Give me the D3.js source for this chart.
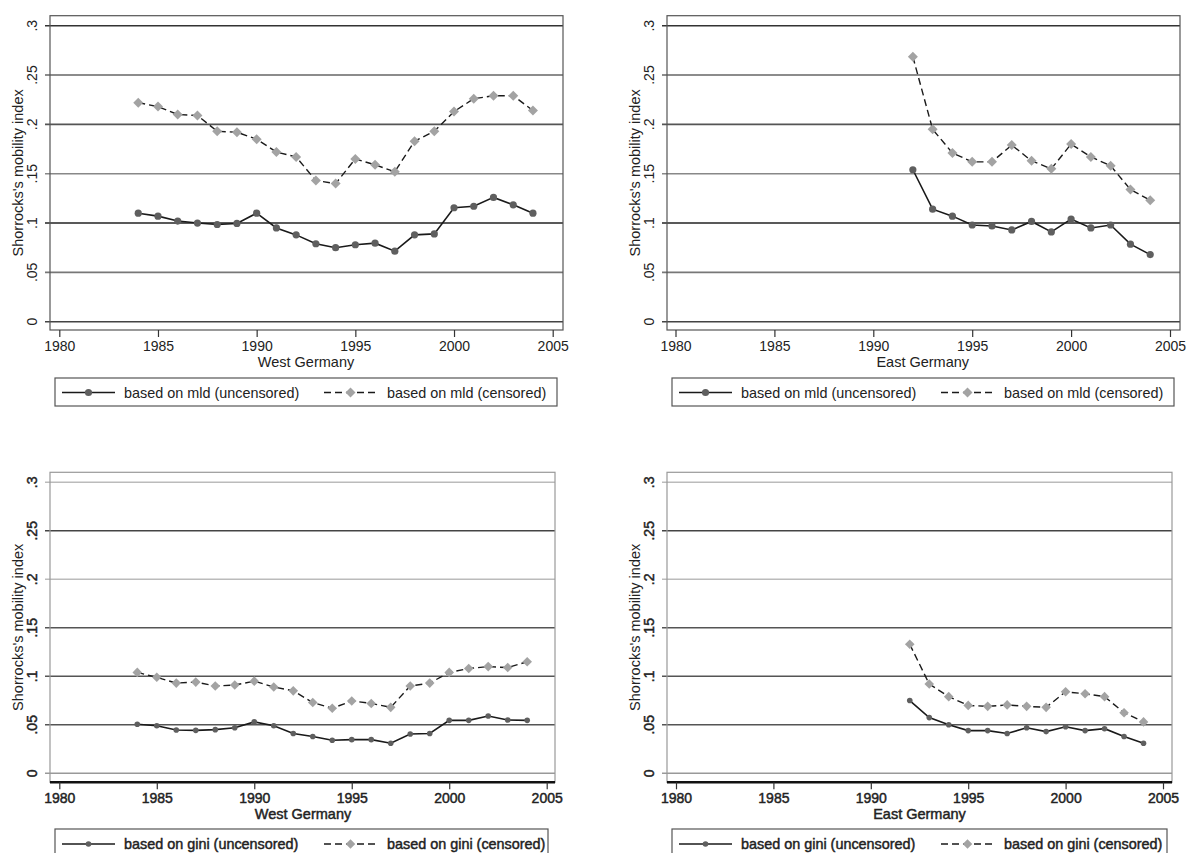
<!DOCTYPE html>
<html lang="en">
<head>
<meta charset="UTF-8" />
<title>Shorrocks mobility index</title>
<script src="https://cdn.jsdelivr.net/npm/d3@7"></script>
<style>
  html, body { margin: 0; padding: 0; background: #fff; }
  svg { display: block; font-family: "Liberation Sans", Arial, sans-serif; }
</style>
</head>
<body>
<div id="chart"></div>
<script>
/* data */
const yearsWest = [1984,1985,1986,1987,1988,1989,1990,1991,1992,1993,1994,1995,1996,1997,1998,1999,2000,2001,2002,2003,2004];
const yearsEast = [1992,1993,1994,1995,1996,1997,1998,1999,2000,2001,2002,2003,2004];

const mldWestUncens = [0.110,0.107,0.102,0.100,0.0985,0.0996,0.110,0.095,0.088,0.079,0.075,0.078,0.0796,0.0715,0.088,0.089,0.1155,0.117,0.126,0.1185,0.110];
const mldWestCens   = [0.222,0.218,0.210,0.209,0.193,0.192,0.185,0.172,0.167,0.143,0.140,0.165,0.159,0.152,0.183,0.193,0.213,0.226,0.229,0.229,0.214];
const mldEastUncens = [0.154,0.114,0.107,0.098,0.097,0.093,0.1016,0.091,0.104,0.095,0.098,0.0786,0.068];
const mldEastCens   = [0.2685,0.195,0.171,0.162,0.162,0.179,0.163,0.155,0.180,0.167,0.158,0.134,0.123];

const giniWestUncens = [0.0505,0.049,0.0447,0.0443,0.045,0.047,0.053,0.049,0.041,0.038,0.034,0.0347,0.0347,0.031,0.0405,0.041,0.0546,0.0546,0.059,0.055,0.0546];
const giniWestCens   = [0.104,0.099,0.093,0.094,0.090,0.091,0.095,0.089,0.085,0.073,0.067,0.0746,0.072,0.068,0.090,0.093,0.104,0.108,0.110,0.109,0.115];
const giniEastUncens = [0.075,0.0574,0.050,0.044,0.044,0.041,0.047,0.043,0.048,0.044,0.046,0.038,0.031];
const giniEastCens   = [0.133,0.092,0.079,0.070,0.069,0.0705,0.069,0.068,0.084,0.082,0.079,0.0625,0.053];

const xTicks = [1980,1985,1990,1995,2000,2005];
const yTicks = [0,0.05,0.1,0.15,0.2,0.25,0.3];
const yTickLabels = ["0",".05",".1",".15",".2",".25",".3"];
const yTitle = "Shorrocks's mobility index";

/* panel layout (pixel boxes) */
const panels = [
  { region: "West Germany", measure: "mld", years: yearsWest, uncens: mldWestUncens, cens: mldWestCens,
    frame: [50, 15.7, 563, 330], xr: [59.3, 552.7], yr: [321.7, 25.7], legend: [55, 378, 557, 406],
    bold: false, grid: ["#444","#777","#222","#888","#555","#666","#333"], r: 3.6, dia: 50 },
  { region: "East Germany", measure: "mld", years: yearsEast, uncens: mldEastUncens, cens: mldEastCens,
    frame: [667, 15.7, 1180, 330], xr: [675.5, 1170], yr: [321.7, 25.7], legend: [672, 378, 1174, 406],
    bold: false, grid: ["#444","#777","#222","#888","#555","#666","#333"], r: 3.6, dia: 50 },
  { region: "West Germany", measure: "gini", years: yearsWest, uncens: giniWestUncens, cens: giniWestCens,
    frame: [50, 472.3, 555, 782.3], xr: [59.3, 546.7], yr: [773.3, 482.3], legend: [55, 829, 548, 860],
    bold: true, grid: ["#999","#555","#555","#555","#bbb","#444","#bbb"], r: 2.8, dia: 46 },
  { region: "East Germany", measure: "gini", years: yearsEast, uncens: giniEastUncens, cens: giniEastCens,
    frame: [667, 472.3, 1172, 782.3], xr: [676, 1163], yr: [773.3, 482.3], legend: [672, 829, 1167, 860],
    bold: true, grid: ["#999","#555","#555","#555","#bbb","#444","#bbb"], r: 2.8, dia: 46 }
];

const svg = d3.select("#chart").append("svg")
  .attr("width", 1189).attr("height", 853)
  .attr("viewBox", [0, 0, 1189, 853]);

panels.forEach(p => {
  const [fx0, fy0, fx1, fy1] = p.frame;
  const x = d3.scaleLinear().domain([1980, 2005]).range(p.xr);
  const y = d3.scaleLinear().domain([0, 0.3]).range(p.yr);
  const g = svg.append("g");
  // the lower panels come from a blurrier scan: heavier-looking text
  const heavy = sel => p.bold ? sel.attr("stroke", "#222").attr("stroke-width", 0.45) : sel;

  // horizontal gridlines with small tick stubs to the left
  g.append("g").selectAll("line").data(yTicks).join("line")
    .attr("x1", fx0 - 5).attr("x2", fx1)
    .attr("y1", d => y(d)).attr("y2", d => y(d))
    .attr("stroke", (d, i) => p.grid[i]).attr("stroke-width", 1.6);

  // y tick labels, rotated like Stata
  g.append("g").selectAll("text").data(yTicks).join("text")
    .attr("transform", d => `translate(${fx0 - 18},${y(d)}) rotate(-90)`)
    .attr("text-anchor", "middle").attr("dy", "0.35em")
    .attr("font-size", 14).attr("fill", "#222")
    .call(heavy)
    .text((d, i) => yTickLabels[i]);

  // y axis title
  g.append("text")
    .attr("transform", `translate(${fx0 - 32},${(fy0 + fy1) / 2}) rotate(-90)`)
    .attr("text-anchor", "middle").attr("dy", "0.35em")
    .attr("font-size", 14.5).attr("fill", "#222")
    .text(yTitle);

  // frame
  g.append("rect")
    .attr("x", fx0).attr("y", fy0).attr("width", fx1 - fx0).attr("height", fy1 - fy0)
    .attr("fill", "none").attr("stroke", p.bold ? "#999" : "#555").attr("stroke-width", 1.2);
  if (p.bold) {
    g.append("line").attr("x1", fx0).attr("x2", fx1).attr("y1", fy1).attr("y2", fy1)
      .attr("stroke", "#111").attr("stroke-width", 2.5);
  }

  // x axis ticks and labels
  const xa = g.append("g").attr("transform", `translate(0,${fy1})`)
    .call(d3.axisBottom(x).tickValues(xTicks).tickSize(7).tickFormat(d3.format("d")));
  xa.select(".domain").remove();
  xa.selectAll(".tick line").attr("stroke", "#333").attr("stroke-width", 1.2);
  xa.selectAll(".tick text")
    .attr("font-family", "Liberation Sans, Arial, sans-serif")
    .attr("font-size", 14).attr("fill", "#222")
    .attr("y", 11).attr("dy", "0.71em")
    .call(heavy);

  g.append("text")
    .attr("x", (p.xr[0] + p.xr[1]) / 2).attr("y", fy1 + 37)
    .attr("text-anchor", "middle").attr("font-size", 14.5).attr("fill", "#222")
    .call(heavy)
    .text(p.region);

  // series
  const ptsU = p.years.map((yr, i) => [yr, p.uncens[i]]);
  const ptsC = p.years.map((yr, i) => [yr, p.cens[i]]);
  const line = d3.line().x(d => x(d[0])).y(d => y(d[1]));

  g.append("path").datum(ptsC).attr("d", line)
    .attr("fill", "none").attr("stroke", "#1a1a1a").attr("stroke-width", 1.4)
    .attr("stroke-dasharray", "7,4");
  g.append("path").datum(ptsU).attr("d", line)
    .attr("fill", "none").attr("stroke", "#1a1a1a").attr("stroke-width", 1.6);

  const diamond = d3.symbol().type(d3.symbolSquare).size(p.dia);
  g.append("g").selectAll("path").data(ptsC).join("path")
    .attr("d", diamond)
    .attr("transform", d => `translate(${x(d[0])},${y(d[1])}) rotate(45)`)
    .attr("fill", "#a3a3a3");
  g.append("g").selectAll("circle").data(ptsU).join("circle")
    .attr("cx", d => x(d[0])).attr("cy", d => y(d[1])).attr("r", p.r)
    .attr("fill", "#5f5f5f");

  // legend
  const [lx0, ly0, lx1, ly1] = p.legend;
  const ly = p.bold ? 844 : 392.5;
  g.append("rect")
    .attr("x", lx0).attr("y", ly0).attr("width", lx1 - lx0).attr("height", ly1 - ly0)
    .attr("fill", "#fff").attr("stroke", "#555").attr("stroke-width", 1.2);

  const l1 = g.append("g").attr("transform", `translate(${lx0 + 7},${ly})`);
  l1.append("line").attr("x1", 0).attr("x2", 53).attr("stroke", "#1a1a1a").attr("stroke-width", 1.6);
  l1.append("circle").attr("cx", 26.5).attr("r", p.r).attr("fill", "#5f5f5f");
  l1.append("text").attr("x", 62).attr("dy", "0.35em").attr("font-size", 14.4).attr("fill", "#222")
    .call(heavy)
    .text(`based on ${p.measure} (uncensored)`);

  const l2 = g.append("g").attr("transform", `translate(${lx0 + 269},${ly})`);
  l2.append("line").attr("x1", 0).attr("x2", 54).attr("stroke", "#1a1a1a").attr("stroke-width", 1.4)
    .attr("stroke-dasharray", "7,4");
  l2.append("path").attr("d", diamond)
    .attr("transform", "translate(26.5,0) rotate(45)").attr("fill", "#a3a3a3");
  l2.append("text").attr("x", 63).attr("dy", "0.35em").attr("font-size", 14.4).attr("fill", "#222")
    .call(heavy)
    .text(`based on ${p.measure} (censored)`);
});
</script>
</body>
</html>
